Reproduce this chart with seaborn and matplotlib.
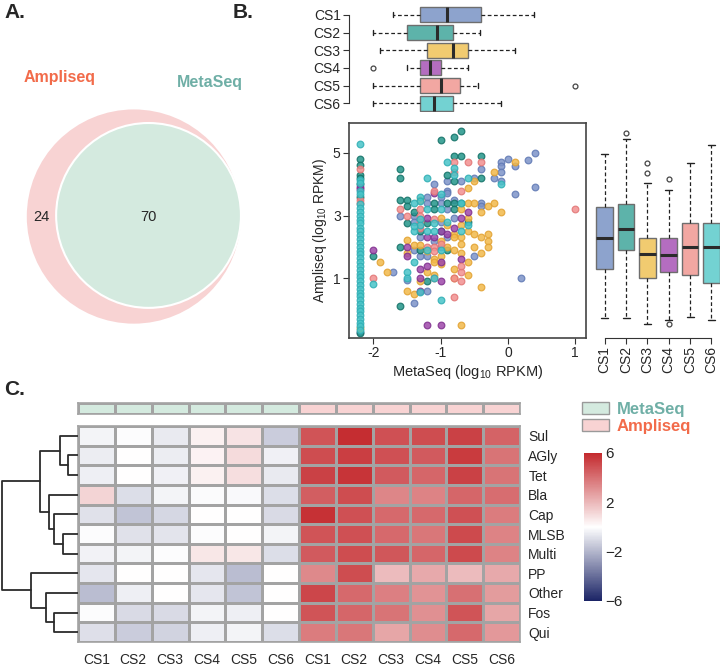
import numpy as np
import pandas as pd
import seaborn as sns
import matplotlib.pyplot as plt
from matplotlib.patches import Circle, Patch
from matplotlib.colors import LinearSegmentedColormap, ListedColormap

sns.set_style("white")
plt.rcParams["font.family"] = ["Liberation Sans", "DejaVu Sans"]
plt.rcParams["mathtext.fontset"] = "custom"
plt.rcParams["mathtext.rm"] = "Liberation Sans"

# ---------------- data ----------------
sites = ["CS1", "CS2", "CS3", "CS4", "CS5", "CS6"]
genes = ["Sul", "AGly", "Tet", "Bla", "Cap", "MLSB", "Multi", "PP", "Other", "Fos", "Qui"]

# Venn counts
venn_ampli_only = 24
venn_shared = 70
venn_meta_only = 0

# MetaSeq boxplot (log10 RPKM) per site
meta_whislo = [-1.70, -2.00, -1.90, -1.50, -2.00, -2.00]
meta_q1 = [-1.30, -1.50, -1.20, -1.30, -1.30, -1.30]
meta_med = [-0.90, -1.05, -0.81, -1.15, -1.00, -1.10]
meta_q3 = [-0.40, -0.81, -0.60, -1.00, -0.71, -0.81]
meta_whishi = [0.39, -0.41, 0.10, -0.60, -0.44, -0.10]
meta_fliers = [[], [], [], [-2.0], [1.0], []]

# Ampliseq boxplot (log10 RPKM) per site
ampli_whislo = [-0.28, -0.28, -0.47, -0.34, -0.25, -0.34]
ampli_q1 = [1.29, 1.89, 1.00, 1.19, 1.10, 0.84]
ampli_med = [2.28, 2.58, 1.77, 1.74, 1.99, 1.99]
ampli_q3 = [3.27, 3.37, 2.28, 2.28, 2.76, 2.76]
ampli_whishi = [4.97, 5.45, 4.04, 3.82, 4.68, 5.26]
ampli_fliers = [[], [5.64], [4.68, 4.37], [4.17, -0.47], [], []]

# scatter: MetaSeq vs Ampliseq (genes not detected by MetaSeq sit at -2.2)
undetected = -2.2
cs1_meta = [0.4, 0.3, 0.0, 0.1, -0.1, -0.1, -0.4, 0.4, 0.1, -0.1, -0.2, -0.1, -0.5, -0.7, -0.9,
            -1.1, -0.9, -0.9, -1.0, -1.2, -1.2, -1.0, -0.4, -0.4, -0.9, -1.6, -1.4, -0.8, -1.4,
            -1.0, -1.3, -0.9, -1.0, -1.4, -0.5, -1.3, -1.2, -1.7, -1.5, -1.2, -1.4, 0.2, -1.1,
            -0.8, -2.2]
cs1_ampli = [5.0, 4.79, 4.8, 4.6, 4.7, 4.6, 4.49, 3.9, 3.7, 4.4, 4.2, 4.1, 4.2, 4.1, 4.1,
             4.0, 3.8, 3.73, 3.6, 3.6, 3.4, 3.4, 3.4, 3.3, 3.2, 3.0, 3.0, 2.92, 2.8,
             2.8, 2.3, 2.3, 2.0, 1.9, 1.7, 1.7, 1.7, 1.18, 0.95, 0.6, 0.2, 1.0, 2.2,
             3.5, -0.72]
cs2_meta = [-0.7, -1.0, -0.8, -1.6, -1.6, -0.8, -0.7, -0.4, -0.9, -0.4,
            -0.8, -1.6, -1.5, -1.1, -0.9, -0.8, -0.7, -1.5, -1.4, -1.1,
            -0.8, -1.5, -1.2, -1.3, -1.6, -1.3, -0.9, -2.0, -1.2, -1.6,
            -1.0, -0.6, -2.2, -2.2, -2.2, -2.2, -2.2, -2.2, -2.2]
cs2_ampli = [5.69, 5.41, 5.51, 4.49, 4.2, 4.89, 4.89, 4.89, 4.31, 4.2,
             4.1, 3.5, 3.5, 3.4, 3.4, 3.4, 3.4, 3.3, 3.1, 3.2,
             3.2, 2.76, 2.76, 2.5, 2.0, 1.9, 1.9, 1.7, 0.9, 0.1,
             2.5, 2.8, 4.81, 4.62, 4.3, 4.2, 4.0, 3.6, -0.75]
cs3_meta = [0.1, -0.2, -0.5, -0.6, -1.3, -0.6, -0.5, -0.3, -0.2, -0.7,
            -0.4, -0.1, -1.0, -0.6, -0.9, -0.7, -0.8, -0.6, -0.5, -0.4,
            -0.3, -1.5, -1.0, -0.8, -0.7, -0.5, -0.3, -0.3, -1.4, -1.3,
            -0.9, -0.8, -0.7, -1.5, -1.2, -0.7, -0.4, -1.0, -1.1, -0.6,
            -1.9, -1.8, -1.1, -1.0, -0.8, -1.2, -1.1, -0.6, -1.3, -0.8,
            -1.5, -1.4, -0.4, -0.7, -2.2]
cs3_ampli = [4.7, 4.4, 4.1, 3.88, 3.5, 3.4, 3.4, 3.3, 3.4, 3.2,
             3.1, 3.1, 2.92, 2.92, 2.7, 2.7, 2.4, 2.5, 2.4, 2.3,
             2.4, 2.23, 2.2, 2.3, 2.3, 2.0, 2.2, 2.0, 2.05, 2.05,
             2.0, 1.9, 2.1, 1.8, 1.85, 1.8, 1.8, 1.7, 1.6, 1.5,
             1.5, 1.18, 1.5, 1.45, 1.3, 1.2, 1.1, 1.1, 0.9, 1.0,
             0.6, 0.5, 0.7, -0.49, -0.6]
cs4_meta = [-1.1, -0.6, -1.2, -0.7, -1.0, -1.2, -1.1, -0.9, -1.5, -1.5, -1.0, -0.7,
            -2.0, -1.3, -1.2, -1.3, -1.0, -1.3, -1.2, -1.0, -0.8, -2.2, -2.2]
cs4_ampli = [3.73, 3.1, 2.92, 2.92, 2.5, 2.3, 2.3, 2.4, 2.0, 1.7, 1.5, 1.6,
             1.9, 1.3, 1.4, 1.0, 0.9, 0.6, -0.49, -0.49, 2.6, 3.9, 3.85]
cs5_meta = [-0.8, -0.6, -0.4, -0.8, -1.1, -0.7, -1.6, -1.3, -1.5, -1.3, -1.1, -1.3, -1.2, -1.1,
            -1.1, -0.8, -0.7, -0.7, -0.7, -1.1, -2.0, -0.8, 1.0, -1.3, -1.0, -2.2, -2.2, -2.2]
cs5_ampli = [4.7, 4.7, 4.7, 4.4, 3.8, 3.8, 3.2, 3.2, 3.0, 2.8, 2.9, 2.6, 2.0, 2.0,
             1.85, 1.0, 1.2, 1.4, 0.9, 1.0, 1.0, 0.39, 3.2, 3.0, 2.1, 4.5, 3.5, 3.4]
cs6_meta = [-0.9, -0.8, -0.8, -0.6, -1.2, -0.1, -1.0, -1.3, -1.3, -1.4, -0.7, -1.2, -1.0, -1.3,
            -0.9, -1.1, -0.6, -1.3, -1.4, -1.2, -1.1, -0.7, -1.0, -1.2, -1.4, -1.5, -1.1, -1.5,
            -2.0, -1.3, -1.0, -1.4]
cs6_ampli = [4.7, 4.52, 4.31, 4.2, 4.2, 4.0, 3.7, 3.6, 3.45, 3.4, 3.4, 3.2, 3.2, 2.9,
             2.8, 2.76, 2.7, 2.7, 2.5, 2.5, 2.5, 2.5, 1.9, 1.9, 1.5, 1.2, 1.0, 1.0,
             0.8, 0.55, 0.3, 2.65]
cs6_undetected_ampli = [5.30, 4.15, 4.05, 3.80, 3.70, 3.36, 3.24, 3.11, 2.99, 2.86, 2.75, 2.61,
                        2.50, 2.37, 2.25, 2.12, 2.00, 1.87, 1.76, 1.63, 1.51, 1.38, 1.27, 1.14,
                        1.02, 0.90, 0.78, 0.65, 0.53, 0.41, 0.29, 0.17, 0.05, -0.07, -0.19,
                        -0.31, -0.43, -0.55, -0.67]

# heatmap (log10 RPKM by resistance class)
meta_vals = [
    [-0.3, -0.05, -0.6, 0.4, 0.75, -1.4],
    [-0.5, 0.0, -0.5, 0.35, 1.0, -0.4],
    [-0.45, 0.0, -0.4, 0.4, 0.9, -0.6],
    [1.2, -0.9, -0.3, -0.1, -0.15, -0.9],
    [-0.8, -1.6, -1.1, 0.0, 0.0, -1.0],
    [-0.05, -0.8, -0.75, -0.05, 0.0, -0.3],
    [-0.35, -0.3, -0.05, 0.7, 0.7, -0.9],
    [-0.7, 0.0, 0.0, -0.7, -1.8, 0.0],
    [-1.8, -0.45, 0.0, -0.7, -1.6, 0.0],
    [-0.05, -1.0, -1.0, -0.3, -0.45, 0.0],
    [-0.85, -1.4, -1.2, -0.45, -0.3, -0.9],
]
ampli_vals = [
    [4.8, 5.9, 4.9, 5.0, 5.3, 4.4],
    [5.0, 5.4, 4.9, 4.6, 5.5, 3.9],
    [5.3, 5.7, 4.6, 4.3, 5.3, 3.9],
    [4.5, 5.0, 3.4, 3.5, 4.3, 4.1],
    [5.8, 4.9, 4.2, 4.2, 4.9, 3.7],
    [4.8, 4.9, 4.2, 3.8, 5.1, 3.5],
    [4.6, 5.0, 4.7, 4.3, 5.1, 3.5],
    [3.3, 5.0, 1.9, 2.4, 1.9, 2.4],
    [5.2, 4.2, 3.6, 3.0, 4.0, 2.8],
    [4.8, 4.3, 3.9, 3.1, 4.8, 2.5],
    [3.7, 3.8, 2.5, 3.2, 4.2, 2.9],
]
# row dendrogram: (child a, child b, height); leaves 0..10 follow `genes`
dendro_merges = [(1, 2, 30), (0, 11, 53), (5, 6, 45), (4, 13, 73), (3, 14, 87),
                 (12, 15, 113), (9, 10, 73), (8, 17, 95), (7, 18, 142), (16, 19, 230)]

# ---------------- styles ----------------
pt_fill = ["#7D93C8", "#23958A", "#F2B94A", "#9E48AA", "#F29090", "#48C4C8"]
pt_edge = ["#6079B4", "#137167", "#E2A232", "#80308F", "#E27676", "#2FAEB4"]
box_fill = ["#8DA3CD", "#5DB3AA", "#F1CB70", "#B46DC0", "#F2A7A2", "#73D2D2"]
pink = "#F8D3D3"
green = "#D4EADF"
amp_txt = "#F26B4A"
meta_txt = "#6FAFA6"
grid_col = "#A3A3A3"

W, H = 720, 666


def rect(x0, y0, x1, y1):
    return [x0 / W, 1 - y1 / H, (x1 - x0) / W, (y1 - y0) / H]


fig = plt.figure(figsize=(7.2, 6.66), dpi=100)

fig.text(4 / W, 1 - 3 / H, "A.", fontsize=15, fontweight="bold", va="top")
fig.text(233 / W, 1 - 3 / H, "B.", fontsize=15, fontweight="bold", va="top")
fig.text(4 / W, 1 - 380 / H, "C.", fontsize=15, fontweight="bold", va="top")

# ---------------- A: Venn ----------------
ax_v = fig.add_axes(rect(0, 60, 260, 330))
r_amp = np.sqrt(venn_ampli_only + venn_shared)
r_meta = np.sqrt(venn_meta_only + venn_shared)
cx_meta = r_amp - r_meta
ax_v.add_patch(Circle((0, 0), r_amp, facecolor=pink, edgecolor="none"))
ax_v.add_patch(Circle((cx_meta, 0.1), r_meta, facecolor=green, edgecolor="white", lw=1.5))
ax_v.text((-r_amp + cx_meta - r_meta) / 2, 0, str(venn_ampli_only), ha="center", va="center", fontsize=10.5)
ax_v.text(cx_meta, 0, str(venn_shared), ha="center", va="center", fontsize=10.5)
ax_v.text(-6.7, 12.55, "Ampliseq", color=amp_txt, fontsize=11.5, fontweight="bold", ha="center", va="center")
ax_v.text(6.9, 12.1, "MetaSeq", color=meta_txt, fontsize=11.5, fontweight="bold", ha="center", va="center")
ax_v.set_xlim(-12.12, 11.42)
ax_v.set_ylim(-10.27, 14.17)
ax_v.axis("off")

xlim_meta = (-2.36, 1.16)
ylim_amp = (-0.92, 5.96)

box_kw = dict(patch_artist=True, showfliers=True,
              boxprops=dict(edgecolor="#6E6E6E", linewidth=1),
              whiskerprops=dict(linestyle=(0, (3, 2)), color="#222222", linewidth=0.9),
              capprops=dict(color="#222222", linewidth=1),
              medianprops=dict(color="#2B2B2B", linewidth=2.2),
              flierprops=dict(marker="o", markerfacecolor="none", markeredgecolor="#444444",
                              markersize=3.5, markeredgewidth=0.9))

# ---------------- B: top boxplot (MetaSeq) ----------------
ax_t = fig.add_axes(rect(349, 6, 586, 112))
stats_t = [dict(med=m, q1=a, q3=b, whislo=lo, whishi=hi, fliers=f)
           for lo, a, m, b, hi, f in zip(meta_whislo, meta_q1, meta_med, meta_q3, meta_whishi, meta_fliers)]
bp = ax_t.bxp(stats_t, positions=range(6), widths=0.85, orientation="horizontal", capwidths=0.3, **box_kw)
for patch, c in zip(bp["boxes"], box_fill):
    patch.set_facecolor(c)
ax_t.set_xlim(xlim_meta)
ax_t.set_ylim(5.5, -0.5)
ax_t.set_yticks(range(6))
ax_t.set_yticklabels(sites)
ax_t.set_xticks([])
for s in ["top", "right", "bottom"]:
    ax_t.spines[s].set_visible(False)
ax_t.spines["left"].set_bounds(0, 5)
ax_t.spines["left"].set_color("#333333")
ax_t.tick_params(axis="y", left=True, direction="out", length=4, color="#333333", labelsize=10, pad=2)

# ---------------- B: scatter ----------------
ax_s = fig.add_axes(rect(349, 123, 586, 338))
meta_all = [cs1_meta, cs2_meta, cs3_meta, cs4_meta, cs5_meta,
            cs6_meta + [undetected] * len(cs6_undetected_ampli)]
ampli_all = [cs1_ampli, cs2_ampli, cs3_ampli, cs4_ampli, cs5_ampli, cs6_ampli + cs6_undetected_ampli]
df = pd.concat([pd.DataFrame({"meta": mx, "ampli": ay, "site": s})
                for mx, ay, s in zip(meta_all, ampli_all, sites)], ignore_index=True)
for i, s in enumerate(sites):
    sub = df[df["site"] == s]
    sns.scatterplot(data=sub, x="meta", y="ampli", color=pt_fill[i], edgecolor=pt_edge[i],
                    linewidth=0.9, s=23, alpha=0.85, ax=ax_s, legend=False)
ax_s.set_xlim(xlim_meta)
ax_s.set_ylim(ylim_amp)
ax_s.set_xticks([-2, -1, 0, 1])
ax_s.set_xticklabels(["-2", "-1", "0", "1"])
ax_s.set_yticks([1, 3, 5])
ax_s.set_yticklabels(["1", "3", "5"])
ax_s.set_xlabel("MetaSeq (log$_{10}$ RPKM)", fontsize=10.5, labelpad=2)
ax_s.set_ylabel("Ampliseq (log$_{10}$ RPKM)", fontsize=10, labelpad=3)
for sp in ax_s.spines.values():
    sp.set_color("#444444")
    sp.set_linewidth(1.2)
ax_s.tick_params(left=True, bottom=True, direction="out", length=4, color="#333333", labelsize=10, pad=2)

# ---------------- B: right boxplot (Ampliseq) ----------------
ax_r = fig.add_axes(rect(594, 123, 720, 338))
stats_r = [dict(med=m, q1=a, q3=b, whislo=lo, whishi=hi, fliers=f)
           for lo, a, m, b, hi, f in zip(ampli_whislo, ampli_q1, ampli_med, ampli_q3, ampli_whishi, ampli_fliers)]
bp = ax_r.bxp(stats_r, positions=range(6), widths=0.78, orientation="vertical", capwidths=0.33, **box_kw)
for patch, c in zip(bp["boxes"], box_fill):
    patch.set_facecolor(c)
ax_r.set_ylim(ylim_amp)
ax_r.set_xlim(-0.5, 5.4)
ax_r.set_yticks([])
ax_r.set_xticks(range(6))
ax_r.set_xticklabels(sites, rotation=90)
for s in ["top", "right", "left"]:
    ax_r.spines[s].set_visible(False)
ax_r.spines["bottom"].set_bounds(0, 5)
ax_r.spines["bottom"].set_color("#333333")
ax_r.tick_params(axis="x", bottom=True, direction="out", length=4, color="#333333", labelsize=10, pad=2)

# ---------------- C: heatmap ----------------
mat = pd.DataFrame(np.hstack([np.array(meta_vals), np.array(ampli_vals)]), index=genes)
cmap = LinearSegmentedColormap.from_list("bwr_c", ["#1B2466", "#FFFFFF", "#C42A2E"])
ax_h = fig.add_axes(rect(78, 426, 520, 642))
cax = fig.add_axes(rect(584, 453, 602, 601))
sns.heatmap(mat, ax=ax_h, cmap=cmap, vmin=-6, vmax=6, linewidths=0.8, linecolor=grid_col,
            cbar_ax=cax, xticklabels=sites * 2, yticklabels=genes, cbar_kws={"ticks": [6, 2, -2, -6]})
ax_h.yaxis.tick_right()
ax_h.tick_params(axis="y", rotation=0, length=0, labelsize=10, pad=6)
ax_h.tick_params(axis="x", rotation=0, length=0, labelsize=10, pad=8)
for sp in ax_h.spines.values():
    sp.set_visible(True)
    sp.set_color(grid_col)
    sp.set_linewidth(1.2)
cbar = ax_h.collections[0].colorbar
cbar.outline.set_visible(False)
cax.tick_params(length=0, labelsize=11, pad=2)

# annotation bar
ax_a = fig.add_axes(rect(78, 403, 520, 414))
sns.heatmap(np.array([[0] * 6 + [1] * 6]), ax=ax_a, cmap=ListedColormap([green, pink]), cbar=False,
            linewidths=0.8, linecolor=grid_col, xticklabels=False, yticklabels=False)
for sp in ax_a.spines.values():
    sp.set_visible(True)
    sp.set_color(grid_col)
    sp.set_linewidth(1.2)

# dendrogram
ax_d = fig.add_axes(rect(0, 426, 78, 642))
pos = {i: i + 0.5 for i in range(len(genes))}
hgt = {i: 0 for i in range(len(genes))}
for k, (a, b, h) in enumerate(dendro_merges):
    node = len(genes) + k
    ax_d.plot([hgt[a], h, h, hgt[b]], [pos[a], pos[a], pos[b], pos[b]], color="#2B2B2B", lw=1.3)
    pos[node] = (pos[a] + pos[b]) / 2
    hgt[node] = h
ax_d.set_xlim(235, 0)
ax_d.set_ylim(len(genes), 0)
ax_d.axis("off")

# legend
fig.legend(handles=[Patch(facecolor=green, edgecolor="#9A9A9A"), Patch(facecolor=pink, edgecolor="#9A9A9A")],
           labels=["MetaSeq", "Ampliseq"], loc="upper left", bbox_to_anchor=(582 / W, 1 - 402 / H),
           frameon=False, prop=dict(weight="bold", size=12), labelcolor=[meta_txt, amp_txt],
           handlelength=1.6, handleheight=0.75, handletextpad=0.5, labelspacing=0.1,
           borderaxespad=0, borderpad=0)

fig.savefig("out.png", dpi=100)
